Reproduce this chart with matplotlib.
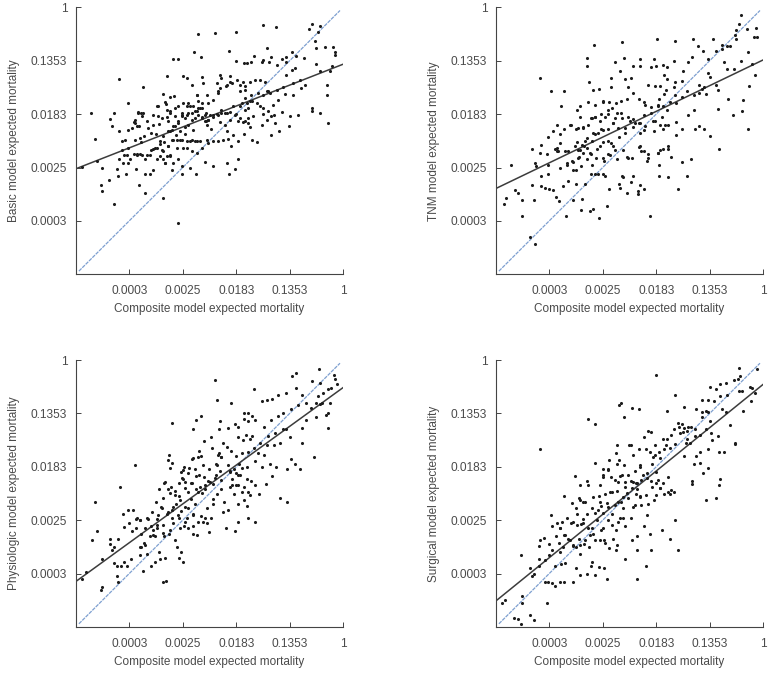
import numpy as np
import matplotlib
matplotlib.use("Agg")
import matplotlib.pyplot as plt

# values are natural log of expected mortality: (composite, model)
basic_pts = [
(-6.16,-8.06),(-6.72,-7.15),(-8.56,-7.37),(-9.02,-6.89),(-9.04,-6.64),(-7.62,-6.65),(-7.42,-6.95),(-9.44,-3.95),(-9.29,-4.92),(-8.37,-2.69),
(-7.48,-3.0),(-8.06,-3.6),(-8.7,-4.17),(-8.65,-4.43),(-8.57,-3.96),(-8.39,-4.62),(-9.76,-5.99),(-9.19,-5.77),(-9.02,-6.03),(-8.74,-6.48),
(-8.42,-6.33),(-8.45,-6.05),(-8.12,-6.25),(-5.44,-1.0),(-4.78,-0.97),(-4.01,-0.93),(-3.0,-0.68),(-2.52,-0.73),(-1.16,-0.64),(-1.27,-0.8),
(-0.96,-0.91),(-0.87,-0.7),(-1.07,-1.25),(-1.02,-1.52),(-0.67,-1.49),(-0.37,-1.49),(-0.32,-1.66),(-0.29,-1.79),(-5.57,-1.66),(-5.32,-1.87),
(-6.35,-1.94),(-6.16,-1.94),(-4.28,-1.63),(-4.01,-2.0),(-3.72,-2.07),(-3.6,-2.07),(-3.46,-2.03),(-3.35,-1.84),(-3.05,-2.03),(-2.99,-1.97),
(-2.84,-1.53),(-2.7,-1.87),(-2.79,-2.04),(-2.49,-2.17),(-2.3,-1.94),(-2.14,-1.87),(-2.14,-2.04),(-1.93,-1.69),(-1.77,-1.82),(-1.47,-1.91),
(-1.02,-2.12),(-2.12,-2.53),(-1.9,-2.34),(-1.79,-2.28),(-0.85,-2.38),(-0.5,-2.38),(-0.41,-2.19),(-0.61,-2.9),(-0.61,-3.3),(-1.15,-3.77),
(-1.17,-3.89),(-0.86,-3.97),(-0.57,-4.32),(-1.68,-4.05),(-1.98,-4.08),(-2.03,-4.43),(-2.39,-4.62),(-2.71,-4.77),(-2.3,-3.94),(-2.6,-4.05),
(-2.69,-4.08),(-2.86,-4.21),(-3.21,-5.04),(-3.4,-4.98),(-3.95,-5.02),(-4.2,-5.2),(-3.95,-5.7),(-4.33,-5.83),(-4.05,-6.05),(-4.26,-6.23),
(-4.86,-5.95),(-5.17,-5.8),(-5.52,-6.26),(-5.73,-6.01),(-6.03,-6.26),(-6.03,-5.95),(-7.78,-4.21),(-7.82,-4.31),(-7.72,-4.43),(-7.62,-4.43),
(-7.91,-4.52),(-8.03,-4.58),(-7.35,-4.27),(-7.53,-4.08),(-7.66,-3.93),(-7.55,-3.96),(-7.1,-4.02),(-6.95,-3.69),(-6.72,-3.24),(-6.64,-3.61),
(-6.46,-3.36),(-6.33,-3.31),(-6.91,-4.08),(-6.87,-4.36),(-7.29,-4.52),(-7.2,-4.71),(-7.45,-4.83),(-7.6,-4.89),(-7.78,-4.96),(-8.16,-4.96),
(-8.28,-4.99),(-8.03,-5.27),(-8.28,-5.33),(-7.97,-5.7),(-8.22,-5.83),(-8.19,-5.52),(-8.09,-5.52),(-8.37,-5.68),(-7.72,-5.49),(-7.81,-5.49),
(-7.6,-5.48),(-7.35,-5.52),(-7.2,-5.33),(-7.1,-5.3),(-6.97,-5.27),(-6.85,-5.11),(-6.72,-4.83),(-6.54,-4.65),(-6.41,-4.58),(-6.29,-4.46),
(-6.16,-4.33),(-6.04,-4.08),(-5.85,-4.02),(-5.67,-3.96),(-5.48,-3.9),(-5.35,-3.77),(-5.17,-4.02),(-5.04,-4.21),(-5.14,-4.27),(-5.26,-4.11),
(-5.42,-4.02),(-5.54,-4.15),(-5.67,-4.21),(-5.79,-4.4),(-5.92,-4.5),(-6.1,-4.65),(-6.26,-4.77),(-6.41,-4.96),(-6.54,-5.21),(-6.72,-5.39),
(-6.85,-5.58),(-6.97,-5.7),(-6.66,-5.83),(-6.48,-5.52),(-6.23,-5.27),(-5.98,-5.27),(-5.85,-5.02),(-5.67,-4.96),(-5.48,-5.02),(-5.35,-5.02),
(-5.11,-4.96),(-4.86,-5.02),(-4.67,-5.02),(-4.48,-4.96),(-4.11,-4.77),(-4.36,-4.65),(-4.42,-4.4),(-4.23,-4.21),(-4.05,-4.02),(-3.92,-4.27),
(-3.74,-4.31),(-3.55,-4.15),(-3.36,-4.08),(-3.11,-3.71),(-2.86,-3.15),(-2.49,-3.09),(-2.24,-2.99),(-1.87,-2.84),(-1.62,-2.71),(-1.43,-2.9),
(-1.56,-3.03),(-1.87,-3.28),(-2.17,-3.26),(-2.43,-3.46),(-2.62,-3.65),(-2.8,-3.9),(-2.99,-3.77),(-3.24,-3.59),(-3.49,-3.52),(-3.67,-3.4),
(-3.86,-3.15),(-3.67,-2.96),(-3.49,-2.78),(-3.74,-2.78),(-3.96,-2.71),(-4.17,-2.84),(-4.38,-2.94),(-4.61,-2.53),(-4.55,-2.65),(-4.73,-2.84),
(-4.67,-3.21),(-4.86,-3.46),(-5.04,-3.59),(-5.29,-3.59),(-5.42,-3.52),(-5.48,-3.28),(-5.67,-2.9),(-5.85,-2.65),(-6.0,-2.57),(-6.6,-2.57),
(-5.27,-2.62),(-5.23,-2.84),(-4.23,-2.57),(-4.67,-4.02),(-4.55,-3.96),(-4.86,-4.02),(-4.36,-3.96),(-4.11,-3.71),(-3.86,-3.71),(-3.67,-3.84),
(-3.55,-3.77),(-3.42,-3.52),(-3.18,-3.21),(-2.99,-3.28),(-2.8,-3.15),(-3.3,-2.74),(-3.11,-2.71),(-2.93,-2.78),(-2.74,-3.21),(-6.16,-3.71),
(-6.03,-3.96),(-6.29,-4.08),(-6.48,-3.96),(-6.6,-3.84),(-5.98,-3.59),(-5.85,-3.71),(-5.73,-3.71),(-6.1,-4.96),(-6.35,-4.96),(-6.6,-5.58),
(-7.1,-6.08),(-7.23,-6.26),(-7.42,-6.26),(-7.75,-6.05),(-8.03,-5.83),(-5.67,-5.39),(-5.48,-5.45),(-5.29,-5.27),(-5.04,-5.08),(-5.85,-5.27),
(-6.16,-5.7),(-6.35,-5.83),(-6.41,-6.08),(-5.1,-4.4),(-4.95,-4.55),(-4.6,-4.3),(-4.3,-4.95),(-3.7,-4.75),(-3.5,-4.5),(-3.05,-4.4),
(-3.0,-4.0),(-2.55,-4.35),(-5.9,-4.75),(-5.6,-4.6),(-6.7,-5.05),(-7.0,-4.75),(-6.55,-4.25),(-7.55,-5.05),(-5.45,-3.3),(-5.1,-3.3),
(-5.42,-3.78),(-5.26,-3.78),(-5.54,-3.9),(-5.13,-3.96),(-4.98,-4.02),(-5.29,-4.15),(-5.17,-4.27),(-5.04,-4.21),(-4.86,-4.09),(-4.71,-4.0),
(-4.55,-3.84),(-4.42,-3.96),(-4.24,-3.92),(-3.99,-4.0),(-3.86,-4.15),(-3.67,-4.27),(-3.55,-4.34),(-3.8,-3.59),(-3.59,-3.59),(-3.43,-3.28),
(-4.24,-2.78),(-4.36,-2.9),(-3.86,-2.9),(-3.67,-3.09),(-4.67,-3.15),(-4.61,-3.03),(-5.79,-3.59),(-5.6,-3.71),(-6.29,-3.78),(-6.48,-3.9),
(-6.6,-4.09),(-6.79,-4.15),(-6.91,-3.71),(-6.66,-3.55),(-6.04,-4.02),(-5.92,-4.15),(-5.79,-3.96),(-6.16,-4.27),(-6.35,-4.46),(-6.48,-4.65),
(-6.23,-4.96),(-6.04,-4.96),(-5.73,-5.02),(-5.54,-5.0),(-6.54,-5.21),(-6.85,-5.02),(-6.79,-5.33),(-7.04,-5.27),(-7.22,-5.52),(-7.41,-5.7),
(-6.73,-5.7),(-6.66,-5.83),(-6.48,-5.58),(-7.72,-5.52),(-7.53,-5.52),(-7.78,-4.34),(-7.66,-3.96),(-7.47,-3.96),(-7.1,-4.4),
]
tnm_pts = [
(-8.53,-8.85),(-8.72,-8.62),(-7.38,-7.82),(-9.0,-7.8),(-9.7,-7.35),(-9.6,-7.14),(-9.28,-6.85),(-9.15,-6.95),(-9.02,-7.2),(-8.56,-7.22),
(-9.41,-5.89),(-8.64,-6.64),(-8.64,-5.3),(-8.33,-2.63),(-7.95,-3.13),(-7.46,-3.13),(-7.57,-3.71),(-8.53,-5.83),(-8.31,-5.14),(-8.03,-4.86),
(-7.7,-4.4),(-6.33,-1.41),(-5.29,-1.31),(-3.96,-1.2),(-3.3,-1.25),(-2.64,-1.2),(-1.87,-1.2),(-0.82,-0.27),(-0.9,-0.62),(-1.0,-0.85),
(-0.27,-0.76),(-0.34,-1.1),(-0.22,-1.13),(-0.62,-0.82),(-0.56,-1.68),(-0.82,-2.0),(-0.41,-2.12),(-0.31,-2.52),(-0.52,-2.96),(-0.75,-3.49),
(-0.8,-3.87),(-1.12,-4.05),(-0.56,-4.55),(-1.64,-5.3),(-1.99,-4.81),(-2.2,-4.55),(-1.68,-3.8),(-1.31,-3.42),(-4.23,-7.8),(-6.14,-7.9),
(-5.83,-7.45),(-6.35,-7.55),(-6.48,-7.62),(-6.81,-7.61),(-6.76,-7.17),(-7.12,-7.21),(-7.76,-7.1),(-7.62,-7.25),(-3.18,-6.79),(-2.83,-6.31),
(-2.7,-5.68),(-3.03,-5.79),(-3.55,-6.34),(-3.91,-6.31),(-4.67,-7.01),(-4.67,-6.89),(-4.6,-6.65),(-4.46,-6.79),(-6.6,-1.9),(-6.6,-2.2),
(-6.5,-2.8),(-6.35,-3.1),(-6.15,-3.05),(-5.7,-3.0),(-5.7,-2.65),(-5.55,-2.05),(-5.2,-1.9),(-5.35,-2.4),(-5.15,-2.7),(-4.95,-2.65),
(-4.85,-2.2),(-4.6,-2.2),(-4.6,-1.95),(-4.2,-2.25),(-4.1,-1.95),(-4.0,-2.2),(-3.75,-2.15),(-3.6,-2.25),(-3.7,-2.55),(-3.6,-2.7),
(-3.35,-2.0),(-3.3,-2.8),(-3.05,-2.75),(-3.0,-2.4),(-2.8,-2.05),(-2.65,-1.85),(-2.45,-1.45),(-2.25,-1.65),(-2.05,-1.95),(-2.05,-2.45),
(-1.75,-1.65),(-1.55,-1.4),(-1.35,-1.45),(-1.45,-2.05),(-1.35,-2.3),(-1.1,-2.3),(-1.55,-1.55),(-1.75,-2.9),(-1.7,-3.1),(-2.2,-3.0),
(-2.4,-3.2),(-2.6,-3.3),(-2.85,-3.15),(-3.05,-3.35),(-3.25,-3.6),(-3.5,-3.55),(-3.75,-3.7),(-3.95,-3.65),(-4.2,-3.75),(-4.45,-3.55),
(-4.65,-3.45),(-4.85,-3.2),(-5.1,-3.45),(-5.3,-3.5),(-5.5,-3.6),(-5.75,-3.55),(-6.0,-3.5),(-6.3,-3.65),(-6.55,-3.55),(-6.85,-3.7),
(-6.95,-3.85),(-6.85,-4.1),(-6.45,-4.15),(-6.3,-4.1),(-6.05,-4.0),(-5.8,-4.0),(-5.55,-4.15),(-5.3,-3.95),(-5.05,-4.1),(-4.85,-4.2),
(-4.65,-4.35),(-4.45,-4.05),(-4.2,-3.95),(-4.05,-4.25),(-3.8,-4.1),(-3.55,-4.4),(-3.25,-4.3),(-3.05,-4.55),(-2.8,-4.05),(-2.6,-3.85),
(-2.55,-4.55),(-2.4,-4.45),(-3.25,-4.8),(-3.75,-4.55),(-4.1,-4.65),(-4.45,-4.6),(-4.6,-4.7),(-4.85,-4.5),(-5.15,-4.7),(-5.4,-4.85),
(-5.6,-4.35),(-5.8,-4.55),(-6.05,-4.55),(-6.3,-4.75),(-6.55,-4.4),(-6.75,-4.5),(-7.0,-4.55),(-7.2,-4.4),(-7.45,-4.55),(-7.6,-4.75),
(-7.85,-4.65),(-7.6,-5.1),(-7.8,-5.3),(-7.7,-5.4),(-8.1,-5.5),(-8.35,-5.45),(-8.5,-5.95),(-8.05,-5.9),(-8.05,-6.25),(-8.3,-6.3),
(-8.3,-6.7),(-8.15,-6.75),(-8.0,-6.8),(-7.85,-6.85),(-7.5,-6.7),(-7.3,-6.5),(-7.6,-6.0),(-7.35,-5.9),(-7.1,-5.8),(-7.0,-6.1),
(-6.9,-5.6),(-6.85,-5.35),(-6.7,-5.2),(-6.45,-5.5),(-6.4,-5.0),(-6.2,-5.3),(-6.0,-5.05),(-5.8,-5.5),(-5.7,-5.1),(-5.55,-5.35),
(-5.45,-5.7),(-5.25,-5.35),(-5.1,-5.6),(-4.9,-5.65),(-4.65,-5.25),(-4.45,-5.4),(-4.3,-5.5),(-4.35,-5.75),(-3.95,-5.45),(-3.75,-5.3),
(-3.55,-5.3),(-3.45,-5.6),(-3.9,-5.9),(-4.85,-6.3),(-5.25,-6.35),(-5.4,-6.6),(-5.75,-6.8),(-5.9,-6.3),(-6.3,-6.25),(-6.45,-6.25),
(-6.65,-6.6),(-7.0,-6.6),(-5.1,-6.95),(-5.35,-6.75),(-4.95,-6.55),(-6.8,-5.95),(-6.6,-5.7),(-7.3,-5.4),(-7.05,-5.2),(-6.95,-5.05),
(-6.6,-4.9),(-6.25,-5.65),(-5.95,-5.75),(-3.3,-3.3),(-3.65,-3.1),(-3.9,-3.45),(-2.4,-2.9),(-2.3,-3.05),(-2.15,-3.25),(-2.0,-2.6),
(-1.0,-1.2),(-1.25,-1.45),(-1.05,-1.05),(-5.05,-3.0),(-4.3,-2.9),(-4.05,-2.95),(-3.85,-2.95),(-3.7,-3.25),(-3.35,-3.0),
(-6.29,-4.09),(-6.41,-4.15),(-6.1,-4.27),(-5.92,-4.09),(-5.79,-3.84),(-5.98,-3.53),(-5.67,-3.77),(-5.48,-3.96),(-5.29,-4.15),(-5.6,-4.34),
(-5.42,-4.52),(-5.17,-4.52),(-4.98,-4.27),(-4.8,-4.34),(-4.61,-4.34),(-4.42,-4.46),(-4.11,-4.27),(-3.86,-4.4),(-3.67,-4.4),(-3.92,-3.71),
(-3.61,-3.84),(-4.42,-3.65),(-6.66,-5.02),(-6.79,-5.14),(-6.91,-5.33),(-6.6,-5.27),(-6.48,-5.46),(-6.72,-5.46),(-6.91,-5.64),(-6.35,-4.71),
(-6.16,-4.71),(-5.98,-4.58),(-5.79,-5.02),(-5.6,-5.21),(-6.1,-5.21),(-5.98,-5.64),(-5.73,-5.52),(-7.72,-5.27),(-7.66,-5.39),(-7.41,-5.39),
(-7.16,-5.77),(-7.1,-6.08),(-7.35,-5.83),(-6.41,-5.89),(-6.16,-6.26),(-5.98,-6.26),(-6.91,-4.52),(-6.72,-4.52),(-7.22,-4.4),(-4.61,-5.21),
(-4.55,-5.39),(-3.86,-5.33),(-3.92,-5.46),(-3.55,-5.21),(-5.04,-5.64),(-5.29,-6.33),(-4.3,-5.64),
]
physio_pts = [
(-9.75,-8.2),(-9.62,-7.95),(-9.0,-8.5),(-9.05,-8.6),(-8.4,-8.3),(-8.45,-8.1),(-7.5,-7.9),(-7.95,-7.45),(-8.2,-7.55),(-8.3,-7.7),
(-8.45,-7.7),(-8.55,-7.6),(-8.1,-7.7),(-9.0,-7.45),(-6.72,-8.3),(-6.62,-8.28),(-6.2,-7.0),(-6.05,-7.2),(-6.15,-7.4),(-6.0,-7.55),
(-6.65,-7.4),(-6.85,-7.45),(-7.05,-7.55),(-7.2,-7.7),(-6.9,-7.2),(-7.35,-7.25),(-7.6,-7.3),(-7.55,-7.0),(-7.45,-6.85),(-8.7,-6.9),
(-8.65,-7.1),(-8.55,-7.0),(-9.4,-6.75),(-9.2,-6.4),(-9.28,-5.3),(-8.35,-4.75),(-7.8,-3.95),(-8.25,-5.75),(-8.05,-5.6),(-7.85,-5.6),
(-8.0,-6.1),(-8.2,-6.25),(-8.4,-6.7),(-8.7,-6.7),(-7.9,-6.4),(-7.75,-6.3),(-7.55,-6.5),(-7.4,-6.3),(-7.2,-6.2),(-7.1,-6.55),
(-6.95,-6.3),(-6.7,-6.6),(-6.5,-6.5),(-6.3,-6.75),(-7.75,-5.95),(-7.6,-6.0),(-7.3,-5.95),(-7.15,-5.7),(-6.95,-5.95),(-6.8,-5.5),
(-6.6,-5.75),(-6.4,-5.6),(-6.25,-5.4),(-6.05,-5.65),(-5.85,-5.9),(-5.6,-6.2),(-5.45,-6.55),(-5.25,-6.05),(-5.0,-6.45),(-4.95,-5.9),
(-5.1,-5.55),(-4.85,-5.4),(-5.55,-5.4),(-5.7,-5.2),(-6.15,-5.1),(-6.3,-4.9),(-6.55,-4.85),(-6.75,-5.15),(-7.0,-5.3),(-6.9,-4.85),
(-6.7,-4.6),(-6.45,-4.75),(-6.15,-4.6),(-6.0,-4.45),(-6.05,-4.2),(-5.95,-4.0),(-5.75,-4.05),(-5.55,-4.1),(-5.4,-4.3),(-5.2,-4.4),
(-5.05,-4.55),(-4.85,-4.65),(-5.35,-4.75),(-5.5,-4.85),(-5.7,-4.6),(-5.9,-4.8),(-6.55,-3.75),(-6.5,-3.55),(-6.4,-3.85),(-5.65,-3.7),
(-5.4,-3.4),(-5.3,-3.6),(-4.9,-3.3),(-4.65,-3.5),(-4.55,-3.65),(-4.3,-3.95),(-4.1,-4.1),(-3.85,-4.3),(-3.6,-4.45),(-3.3,-4.7),
(-2.9,-4.65),(-2.65,-4.35),(-2.35,-5.15),(-2.1,-5.3),(-2.1,-4.1),(-1.95,-3.7),(-1.8,-3.9),(-1.6,-4.1),(-1.1,-3.65),(-1.55,-3.1),
(-2.0,-2.9),(-2.35,-3.1),(-2.6,-3.2),(-2.85,-3.2),(-3.1,-3.1),(-3.35,-3.3),(-3.55,-3.45),(-3.8,-3.5),(-4.0,-3.6),(-4.2,-3.4),
(-4.35,-3.25),(-4.5,-3.1),(-3.5,-2.95),(-3.75,-3.0),(-3.95,-2.9),(-3.65,-2.8),(-3.4,-2.85),(-2.8,-2.85),(-2.55,-2.75),(-2.25,-2.6),
(-2.15,-2.6),(-4.65,-2.6),(-4.6,-2.3),(-4.3,-2.55),(-4.05,-2.4),(-3.95,-2.5),(-3.7,-2.2),(-3.55,-2.3),(-3.4,-2.1),(-3.3,-2.25),
(-2.95,-2.5),(-2.7,-2.25),(-2.45,-2.1),(-2.25,-2.0),(-1.95,-1.85),(-1.7,-1.7),(-1.4,-1.6),(-1.2,-1.8),(-1.4,-2.25),(-1.55,-2.55),
(-1.0,-1.6),(-0.85,-1.65),(-0.95,-1.35),(-0.75,-1.25),(-0.55,-1.1),(-0.5,-1.6),(-0.55,-2.0),(-0.55,-2.55),(-0.65,-2.05),(-1.0,-2.15),
(-0.8,-1.6),(-1.15,-0.8),(-0.9,-0.35),(-0.85,-0.85),(-0.35,-0.55),(-0.3,-0.7),(-0.25,-0.9),(-0.45,-1.05),(-1.75,-0.5),(-1.9,-0.6),
(-1.75,-1.05),(-1.55,-1.3),(-2.15,-1.25),(-2.45,-1.3),(-2.65,-1.45),(-2.85,-1.5),(-3.05,-1.55),(-3.35,-1.1),(-3.7,-2.0),(-3.55,-2.0),
(-4.7,-1.5),(-4.2,-1.6),(-4.78,-0.75),(-5.5,-2.25),(-5.3,-2.1),(-5.6,-2.6),(-6.4,-2.35),(-5.2,-3.05),(-4.95,-2.9),(-3.15,-5.0),
(-3.5,-5.05),(-3.7,-5.25),(-3.6,-5.45),(-3.3,-6.05),(-3.55,-5.9),(-3.95,-6.05),(-4.05,-6.4),(-4.4,-6.3),(-4.3,-5.6),(-4.5,-5.7),
(-4.45,-5.3),(-4.1,-5.0),(-3.95,-5.4),(-4.7,-5.0),(-4.55,-4.85),(-4.25,-4.75),(-3.95,-4.7),(-3.7,-4.75),(-3.45,-4.55),(-5.8,-4.95),
(-5.15,-4.85),(-5.6,-5.75),(-5.8,-5.55),(-6.35,-6.1),(-6.15,-5.9),(-5.95,-6.2),(-5.6,-6.5),(-5.3,-5.85),(-4.85,-5.2),(-4.75,-4.3),
(-4.6,-4.15),(-4.25,-4.15),(-4.75,-3.9),(-5.0,-4.1),(-5.25,-3.95),(-5.5,-4.35),(-3.9,-3.9),(-3.6,-4.0),(-3.3,-3.8),(-3.05,-4.0),
(-2.95,-3.55),(-3.2,-3.5),(-2.75,-3.9),(-2.5,-4.0),(-3.95,-4.3),(-4.15,-4.45),
(-6.04,-4.43),(-5.92,-4.56),(-5.79,-4.24),(-5.98,-4.12),(-5.67,-4.62),(-5.42,-4.93),(-5.29,-4.99),(-5.17,-4.68),(-4.98,-4.56),(-4.8,-4.43),
(-4.55,-4.49),(-4.24,-4.18),(-3.99,-4.24),(-3.8,-4.06),(-4.67,-3.56),(-4.55,-3.62),(-4.73,-3.93),(-5.42,-3.62),(-5.6,-3.68),(-6.48,-4.06),
(-6.66,-4.56),(-6.48,-4.99),(-6.29,-5.05),(-6.1,-5.24),(-5.92,-5.49),(-6.35,-5.49),(-6.54,-5.68),(-6.79,-5.55),(-6.91,-5.8),(-6.41,-5.93),
(-6.16,-5.8),(-5.92,-6.05),(-5.6,-5.8),(-5.42,-6.05),(-5.79,-6.3),(-6.1,-6.3),(-6.48,-6.37),(-6.73,-6.18),(-6.97,-6.18),(-7.1,-6.37),
(-7.35,-5.93),(-7.6,-5.99),(-7.72,-5.93),(-7.41,-6.93),(-7.6,-6.99),(-6.73,-6.49),(-7.04,-6.61),(-7.22,-6.61),(-5.17,-5.93),(-5.1,-6.12),
(-4.17,-4.68),(-3.99,-4.68),(-3.8,-4.93),(-3.55,-4.93),
]
surgical_pts = [
(-9.65,-9.0),(-9.75,-9.1),(-9.3,-9.65),(-9.15,-9.7),(-9.05,-9.9),(-9.0,-9.1),(-9.0,-8.85),(-8.7,-9.55),(-8.55,-9.75),(-8.1,-9.1),
(-8.15,-8.3),(-8.05,-8.3),(-7.9,-8.35),(-7.8,-8.45),(-7.6,-8.3),(-7.45,-8.3),(-7.1,-8.3),(-8.4,-7.45),(-8.4,-7.7),(-8.15,-7.5),
(-8.0,-7.3),(-7.8,-7.7),(-7.55,-7.65),(-7.4,-7.6),(-7.0,-7.8),(-6.85,-8.05),(-6.6,-8.0),(-6.3,-8.05),(-6.45,-7.7),(-6.4,-7.55),
(-6.15,-7.75),(-5.95,-7.8),(-5.85,-8.2),(-9.05,-7.3),(-8.7,-7.8),(-8.65,-8.1),(-8.55,-8.0),(-8.4,-6.95),(-8.35,-6.75),(-8.2,-6.65),
(-8.35,-3.35),(-7.95,-5.8),(-7.9,-6.2),(-7.7,-6.1),(-7.6,-6.3),(-7.75,-6.6),(-7.65,-6.85),(-7.45,-6.55),(-7.5,-7.0),(-8.0,-6.9),
(-7.9,-7.1),(-7.6,-7.2),(-7.3,-6.7),(-7.1,-6.95),(-7.0,-7.0),(-6.85,-7.25),(-6.9,-6.7),(-6.7,-6.9),(-6.5,-7.0),(-6.3,-6.75),
(-6.55,-6.3),(-6.35,-6.5),(-6.2,-6.0),(-6.05,-6.35),(-5.95,-6.75),(-5.75,-7.05),(-5.5,-7.1),(-5.15,-7.45),(-4.7,-7.1),(-4.4,-7.7),
(-4.7,-8.2),(-4.2,-7.1),(-3.2,-7.1),(-3.5,-6.7),(-3.8,-6.35),(-4.25,-6.5),(-4.45,-6.2),(-4.7,-6.6),(-4.9,-6.75),(-5.15,-6.2),
(-5.5,-6.35),(-5.6,-6.7),(-5.8,-6.0),(-5.65,-5.75),(-5.35,-5.9),(-5.25,-5.55),(-4.95,-5.9),(-4.85,-5.5),(-4.35,-5.8),(-4.3,-5.4),
(-3.3,-6.0),(-4.1,-5.25),(-4.15,-4.75),(-3.85,-4.8),(-3.7,-5.0),(-3.5,-5.0),(-3.35,-4.95),(-3.95,-4.5),(-3.75,-4.6),(-3.55,-4.4),
(-2.65,-4.55),(-2.65,-4.65),(-2.15,-5.25),(-1.75,-5.15),(-1.65,-4.7),(-1.6,-4.45),(-2.05,-4.05),(-2.35,-3.85),(-2.25,-4.25),(-2.6,-3.9),
(-1.65,-3.45),(-1.45,-3.45),(-1.05,-3.15),(-1.7,-2.85),(-1.9,-3.0),(-1.95,-2.75),(-2.05,-3.35),(-2.35,-3.45),(-2.5,-3.6),(-2.95,-3.6),
(-2.9,-3.1),(-2.75,-3.1),(-2.55,-2.85),(-2.35,-2.8),(-2.15,-2.6),(-2.0,-2.3),(-2.05,-1.95),(-2.3,-2.15),(-2.55,-2.6),(-2.85,-2.65),
(-3.1,-2.75),(-3.3,-3.15),(-3.5,-3.3),(-3.7,-3.35),(-3.9,-3.45),(-3.6,-2.95),(-3.35,-2.6),(-3.2,-2.35),(-3.0,-2.7),(-2.85,-2.95),
(-2.7,-2.5),(-2.95,-2.55),(-3.15,-2.5),(-3.45,-2.8),(-3.65,-3.2),(-3.75,-2.95),(-4.05,-3.2),(-4.25,-3.45),(-4.4,-3.35),(-4.45,-2.9),
(-4.3,-2.65),(-4.2,-2.7),(-4.65,-3.35),(-4.95,-3.2),(-5.0,-3.2),(-5.45,-3.2),(-5.5,-3.5),(-5.75,-3.75),(-6.0,-4.1),(-5.8,-4.1),
(-5.4,-3.75),(-5.2,-3.95),(-5.35,-4.35),(-5.05,-4.3),(-4.8,-4.15),(-4.6,-4.0),(-4.35,-4.25),(-4.0,-4.2),(-4.15,-3.9),(-4.5,-4.3),
(-4.75,-4.6),(-4.95,-4.55),(-5.15,-4.75),(-5.45,-4.9),(-5.65,-4.95),(-5.9,-5.0),(-6.1,-4.7),(-6.15,-5.1),(-5.85,-5.35),(-6.4,-5.55),
(-6.6,-5.75),(-6.75,-5.95),(-6.8,-6.15),(-6.3,-3.85),(-6.6,-4.55),(-6.85,-4.7),(-7.05,-4.35),(-7.45,-5.1),(-7.15,-5.35),(-7.0,-5.55),
(-6.9,-5.15),(-6.65,-5.3),(-5.55,-4.5),(-5.3,-5.3),(-5.05,-5.15),(-4.75,-5.0),(-4.6,-5.1),(-4.4,-5.05),(-4.2,-4.55),(-3.6,-1.9),
(-4.0,-0.55),(-3.3,-1.3),(-2.95,-1.75),(-3.05,-2.4),(-2.8,-2.5),(-2.5,-1.85),(-2.3,-1.5),(-2.3,-1.95),(-2.15,-1.9),(-2.05,-1.5),
(-1.85,-1.55),(-2.0,-1.0),(-1.75,-1.1),(-1.6,-1.35),(-1.35,-1.3),(-1.55,-1.85),(-1.25,-2.45),(-1.4,-1.95),(-1.05,-3.1),(-1.6,-0.9),
(-1.4,-0.85),(-1.1,-0.75),(-0.95,-0.7),(-0.85,-0.6),(-0.9,-1.15),(-0.8,-1.15),(-0.75,-1.9),(-0.45,-1.55),(-0.3,-1.25),(-0.5,-1.0),
(-0.4,-1.05),(-0.25,-0.35),(-0.9,-0.3),(-4.9,-1.8),(-5.4,-1.7),(-5.3,-1.6),(-5.2,-2.15),(-6.55,-2.2),(-6.3,-2.4),(-4.65,-1.85),
(-4.7,-4.85),(-4.05,-3.55),(-6.0,-4.3),(-5.7,-4.4),(-5.45,-3.9),(-6.05,-5.45),(-7.35,-5.9),(-7.2,-6.1),(-6.95,-5.75),
(-5.73,-4.93),(-5.54,-5.43),(-5.42,-5.3),(-5.23,-5.12),(-5.1,-4.99),(-4.92,-4.81),(-4.73,-4.62),(-4.55,-4.49),(-4.36,-4.43),(-4.86,-4.56),
(-5.17,-4.56),(-5.79,-5.49),(-5.98,-5.74),(-6.16,-5.62),(-6.29,-5.74),(-6.1,-5.3),(-6.35,-5.12),(-6.85,-5.24),(-6.73,-5.3),(-6.54,-4.68),
(-5.79,-4.12),(-5.98,-4.37),(-5.42,-4.56),(-5.29,-4.31),(-4.61,-5.12),(-4.55,-5.43),(-4.8,-5.43),(-3.99,-4.62),(-3.86,-4.81),(-3.55,-4.93),
(-3.43,-4.87),(-3.99,-5.05),(-5.67,-6.18),(-5.42,-6.05),(-5.98,-6.3),(-6.41,-6.3),(-6.48,-6.55),(-6.66,-6.74),(-6.85,-6.93),(-7.1,-6.93),
(-7.22,-6.74),(-7.41,-6.55),(-7.6,-6.3),(-7.53,-6.05),(-7.1,-6.05),(-6.97,-6.18),(-6.73,-6.12),(-6.1,-6.74),(-5.92,-6.86),(-5.48,-6.93),
(-5.23,-5.93),(-4.86,-3.56),(-4.61,-3.93),(-4.11,-3.62),(-3.86,-3.68),
]
fit_x = [-10, 0]
basic_fit = [-6.05, -2.13]
tnm_fit = [-6.79, -1.97]
physio_fit = [-8.3, -1.03]
surgical_fit = [-9.03, -0.91]
ref_line = [-9.88, -0.12]

tick_vals = [-8, -6, -4, -2, 0]
tick_labels = ["0.0003", "0.0025", "0.0183", "0.1353", "1"]
names = ["Basic", "TNM", "Physiologic", "Surgical"]
all_pts = [basic_pts, tnm_pts, physio_pts, surgical_pts]
all_fits = [basic_fit, tnm_fit, physio_fit, surgical_fit]

plt.rcParams["font.family"] = "Liberation Sans"
W, H = 776, 673
fig = plt.figure(figsize=(W / 100, H / 100), dpi=100)

lefts = [75.7, 495.7, 75.7, 495.7]
tops = [7.3, 7.3, 360, 360]
text_col = "#4a4a4a"

for i in range(4):
    ax = fig.add_axes([lefts[i] / W, 1 - (tops[i] + 267) / H, 267.5 / W, 267 / H])
    pts = np.array(all_pts[i])
    ax.plot(ref_line, ref_line, color="#7d9fd0", lw=0.9, ls=(0, (3, 0.8)), zorder=1)
    ax.plot(fit_x, all_fits[i], color="#3c3c3c", lw=1.1, zorder=2)
    ax.scatter(pts[:, 0], pts[:, 1], s=5, color="#1c1c1c", linewidths=0, zorder=3)
    ax.set_xlim(-10, 0)
    ax.set_ylim(-10, 0)
    ax.set_xticks(tick_vals)
    ax.set_yticks(tick_vals)
    ax.set_xticklabels(tick_labels)
    ax.set_yticklabels(tick_labels)
    ax.tick_params(direction="in", length=3.5, width=0.7, color="#444444", labelcolor=text_col,
                   labelsize=8.6)
    ax.tick_params(axis="x", pad=8)
    ax.tick_params(axis="y", pad=6)
    ax.spines["top"].set_visible(False)
    ax.spines["right"].set_visible(False)
    ax.spines["left"].set_linewidth(0.8)
    ax.spines["bottom"].set_linewidth(0.8)
    ax.spines["left"].set_color("#444444")
    ax.spines["bottom"].set_color("#444444")
    ax.set_xlabel("Composite model expected mortality", fontsize=8.5, color=text_col)
    ax.xaxis.set_label_coords(0.5, -0.108)
    ax.set_ylabel(names[i] + " model expected mortality", fontsize=8.5, color=text_col)
    ax.yaxis.set_label_coords(-0.21, 0.5)

fig.savefig("out.png", dpi=100)
